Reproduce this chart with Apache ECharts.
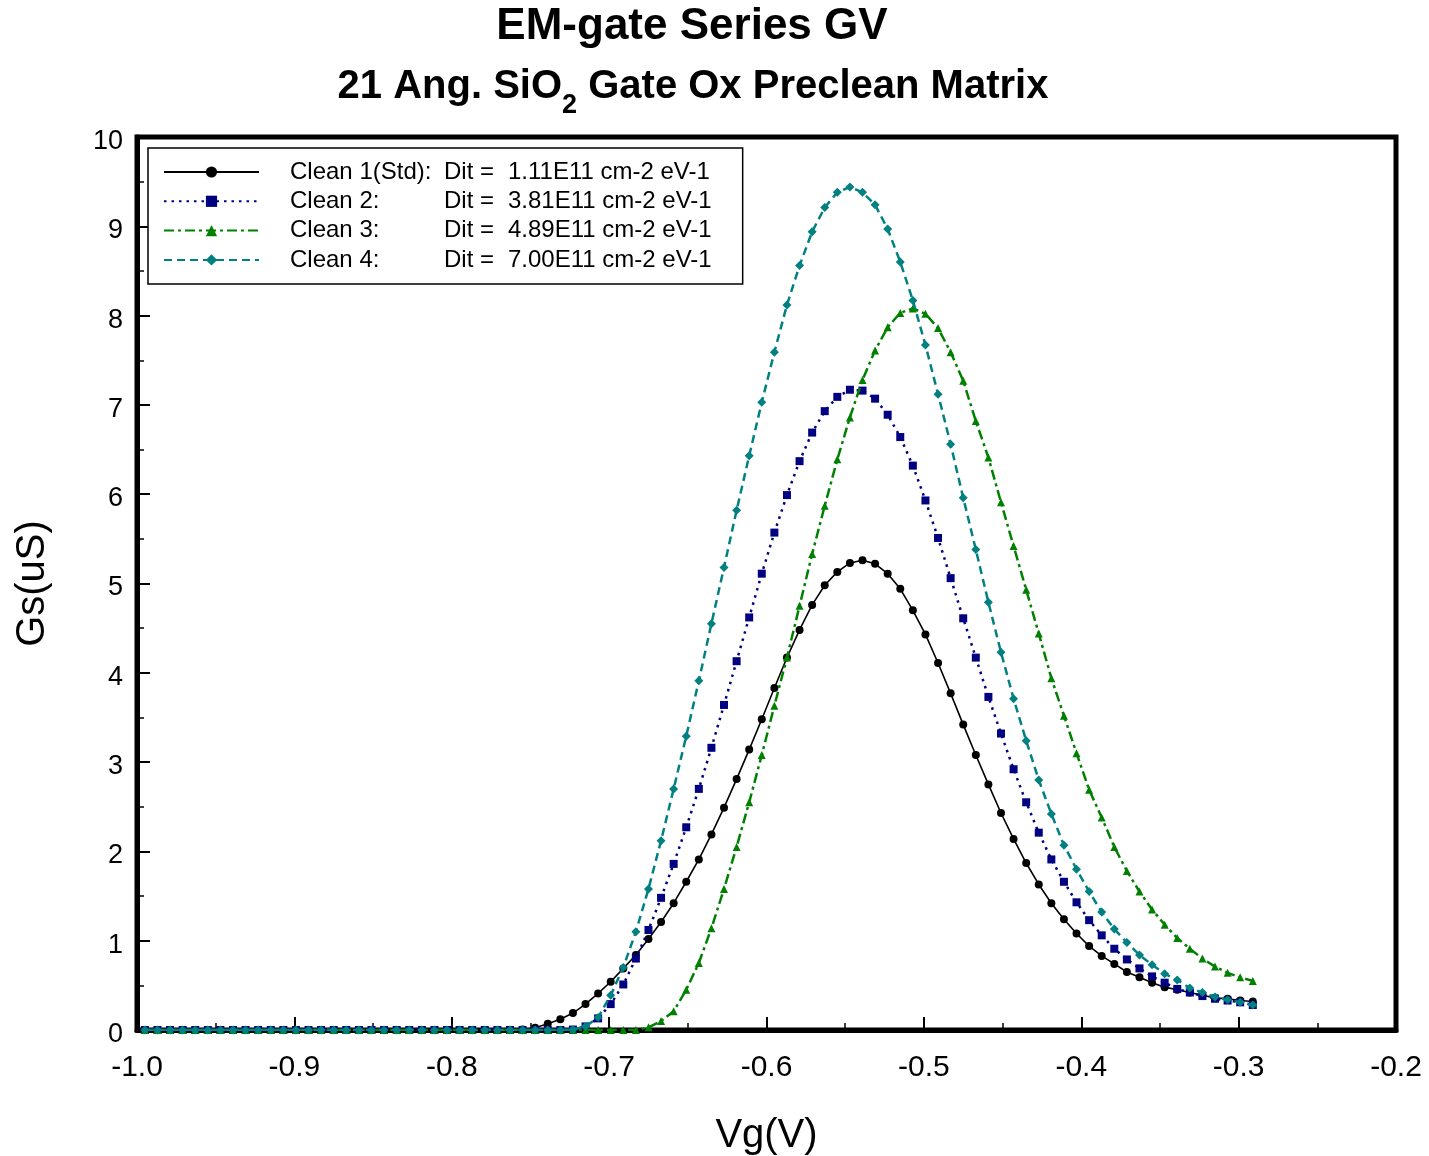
<!DOCTYPE html>
<html>
<head>
<meta charset="utf-8">
<script src="https://cdn.jsdelivr.net/npm/echarts@6/dist/echarts.min.js"></script>
<style>
html,body{margin:0;padding:0;background:#fff;}
#chart{width:1429px;height:1156px;}
</style>
</head>
<body>
<div id="chart"></div>
<script>
// Gate voltage sweep (V)
var vg = [-0.995,-0.987,-0.979,-0.971,-0.963,-0.955,-0.947,-0.939,-0.931,-0.923,
-0.915,-0.907,-0.899,-0.891,-0.883,-0.875,-0.867,-0.859,-0.851,-0.843,
-0.835,-0.827,-0.819,-0.811,-0.803,-0.795,-0.787,-0.779,-0.771,-0.763,
-0.755,-0.747,-0.739,-0.731,-0.723,-0.715,-0.707,-0.699,-0.691,-0.683,
-0.675,-0.667,-0.659,-0.651,-0.643,-0.635,-0.627,-0.619,-0.611,-0.603,
-0.595,-0.587,-0.579,-0.571,-0.563,-0.555,-0.547,-0.539,-0.531,-0.523,
-0.515,-0.507,-0.499,-0.491,-0.483,-0.475,-0.467,-0.459,-0.451,-0.443,
-0.435,-0.427,-0.419,-0.411,-0.403,-0.395,-0.387,-0.379,-0.371,-0.363,
-0.355,-0.347,-0.339,-0.331,-0.323,-0.315,-0.307,-0.299,-0.291];

var clean1 = [0,0,0,0,0,0,0,0,0,0, 0,0,0,0,0,0,0,0,0,0, 0,0,0,0,0,0,0,0,0,0,
0.005,0.025,0.07,0.12,0.19,0.29,0.41,0.54,0.69,0.84,
1.02,1.21,1.42,1.66,1.91,2.19,2.49,2.81,3.14,3.48,
3.83,4.17,4.48,4.76,4.98,5.13,5.23,5.26,5.22,5.11,
4.94,4.70,4.43,4.11,3.77,3.42,3.08,2.75,2.43,2.14,
1.87,1.63,1.42,1.24,1.08,0.94,0.83,0.74,0.65,0.59,
0.53,0.48,0.45,0.42,0.39,0.36,0.35,0.33,0.32];

var clean2 = [0,0,0,0,0,0,0,0,0,0, 0,0,0,0,0,0,0,0,0,0, 0,0,0,0,0,0,0,0,0,0,
0,0,0,0,0.005,0.04,0.13,0.29,0.51,0.80,
1.12,1.48,1.86,2.27,2.70,3.16,3.64,4.13,4.62,5.11,
5.57,5.99,6.37,6.69,6.93,7.09,7.17,7.16,7.07,6.89,
6.64,6.32,5.93,5.51,5.06,4.61,4.17,3.73,3.32,2.92,
2.55,2.21,1.91,1.66,1.43,1.23,1.06,0.91,0.79,0.69,
0.60,0.53,0.46,0.42,0.38,0.35,0.33,0.31,0.28];

var clean3 = [0,0,0,0,0,0,0,0,0,0, 0,0,0,0,0,0,0,0,0,0, 0,0,0,0,0,0,0,0,0,0,
0,0,0,0,0,0,0,0,0,0,
0.03,0.10,0.21,0.45,0.75,1.14,1.58,2.05,2.55,3.08,
3.63,4.17,4.75,5.33,5.87,6.39,6.86,7.28,7.61,7.87,
8.03,8.08,8.02,7.86,7.59,7.27,6.82,6.41,5.91,5.42,
4.93,4.44,3.94,3.52,3.10,2.69,2.38,2.05,1.78,1.55,
1.35,1.18,1.03,0.91,0.80,0.71,0.64,0.59,0.55];

var clean4 = [0,0,0,0,0,0,0,0,0,0, 0,0,0,0,0,0,0,0,0,0, 0,0,0,0,0,0,0,0,0,0,
0,0,0,0,0.005,0.04,0.14,0.39,0.70,1.10,
1.58,2.12,2.70,3.29,3.91,4.55,5.18,5.82,6.43,7.03,
7.59,8.12,8.56,8.94,9.21,9.38,9.44,9.38,9.24,8.97,
8.60,8.17,7.67,7.12,6.56,5.96,5.38,4.79,4.23,3.71,
3.24,2.80,2.42,2.07,1.80,1.55,1.32,1.13,0.98,0.84,
0.73,0.63,0.56,0.47,0.42,0.37,0.34,0.31,0.28];

var seriesNames = ['Clean 1(Std):', 'Clean 2:', 'Clean 3:', 'Clean 4:'];
var ditValues = ['1.11E11 cm-2 eV-1', '3.81E11 cm-2 eV-1', '4.89E11 cm-2 eV-1', '7.00E11 cm-2 eV-1'];

function pairs(ys){ return vg.map(function(x,i){ return [x, ys[i]]; }); }

var FONT = '"Liberation Sans", Arial, sans-serif';
var chart = echarts.init(document.getElementById('chart'), null, {renderer:'canvas'});

var styles = [
  {color:'#000000', symbol:'circle', size:8, dash:'solid', width:1.6},
  {color:'#000080', symbol:'rect', size:8, dash:[2.5,5], width:2.5},
  {color:'#008000', symbol:'triangle', size:8, dash:[10,4,3,4], width:2.5},
  {color:'#008080', symbol:'diamond', size:9, dash:[8,5], width:2.5}
];
var datas = [clean1, clean2, clean3, clean4];

var series = datas.map(function(d,i){
  var s = styles[i];
  return {
    name: seriesNames[i],
    type: 'line',
    data: pairs(d),
    symbol: s.symbol,
    symbolSize: s.size,
    showAllSymbol: true,
    animation: false,
    itemStyle: {color: s.color, borderWidth: 0},
    lineStyle: {color: s.color, width: s.width, type: s.dash},
    z: 20 + i
  };
});

var option = {
  animation: false,
  backgroundColor: '#ffffff',
  textStyle: {fontFamily: FONT},
  grid: {left:137, right:33, top:137, bottom:126, show:true, borderColor:'#000', borderWidth:5,
         backgroundColor:'transparent', z: 0, containLabel:false, outerBoundsMode:'none'},
  legend: {
    orient: 'vertical',
    left: 148, top: 148,
    padding: [12, 31, 12, 15],
    backgroundColor: '#fff',
    borderColor: '#000',
    borderWidth: 1.5,
    borderRadius: 0,
    itemWidth: 95,
    itemHeight: 14,
    itemGap: 5.3,
    selectedMode: false,
    z: 40,
    data: seriesNames,
    formatter: function(name){
      var i = seriesNames.indexOf(name);
      return '{sp|}{n|' + name + '}{d|Dit =}{v|' + ditValues[i] + '}';
    },
    textStyle: {
      fontFamily: FONT, fontSize: 24, color: '#000',
      rich: {
        sp: {width: 26},
        n: {width: 154, fontSize: 24, fontFamily: FONT, color:'#000'},
        d: {width: 64, fontSize: 24, fontFamily: FONT, color:'#000'},
        v: {fontSize: 24, fontFamily: FONT, color:'#000'}
      }
    }
  },
  xAxis: {
    type: 'value',
    min: -1.0, max: -0.2, interval: 0.1,
    z: 5,
    name: 'Vg(V)', nameLocation: 'middle', nameGap: 86,
    nameTextStyle: {fontFamily: FONT, fontSize: 40, color:'#000'},
    axisLine: {show: true, onZero: false, lineStyle: {color:'#000', width: 5}},
    axisTick: {show: true, inside: true, length: 13, lineStyle: {color:'#000', width: 2}},
    minorTick: {show: true, splitNumber: 2, length: 7, lineStyle: {color:'#000', width: 1.5}},
    axisLabel: {fontFamily: FONT, fontSize: 30, color:'#000', margin: 23,
      formatter: function(v){ return (Math.round(v*10)/10).toFixed(1); }},
    splitLine: {show: false}
  },
  yAxis: {
    type: 'value',
    min: 0, max: 10, interval: 1,
    z: 5,
    name: 'Gs(uS)', nameLocation: 'middle', nameGap: 84,
    nameTextStyle: {fontFamily: FONT, fontSize: 40, color:'#000'},
    axisLine: {show: true, onZero: false, lineStyle: {color:'#000', width: 5}},
    axisTick: {show: true, inside: true, length: 13, lineStyle: {color:'#000', width: 2}},
    minorTick: {show: true, splitNumber: 2, length: 7, lineStyle: {color:'#000', width: 1.5}},
    axisLabel: {fontFamily: FONT, fontSize: 27, color:'#000', margin: 14,
      formatter: function(v){ return '{a|' + v + '}'; },
      rich: {a: {fontFamily: FONT, fontSize: 27, color:'#000', padding: [9,0,0,0]}}
    },
    splitLine: {show: false}
  },
  graphic: [
    {type:'text', x: 692, y: 27, style:{text:'EM-gate Series GV', font:'bold 44px ' + FONT, fill:'#000', align:'center', verticalAlign:'middle'}, z:100},
    {type:'text', x: 693, y: 87,
      style:{
        text:'{t|21 Ang. SiO}{s|2}{t| Gate Ox Preclean Matrix}',
        align:'center', verticalAlign:'middle',
        rich:{
          t:{font:'bold 40px ' + FONT, fill:'#000', verticalAlign:'bottom'},
          s:{font:'bold 27px ' + FONT, fill:'#000', verticalAlign:'bottom', padding:[0,0,-12,0]}
        }
      }, z:100}
  ],
  series: series
};
chart.setOption(option);
</script>
</body>
</html>
